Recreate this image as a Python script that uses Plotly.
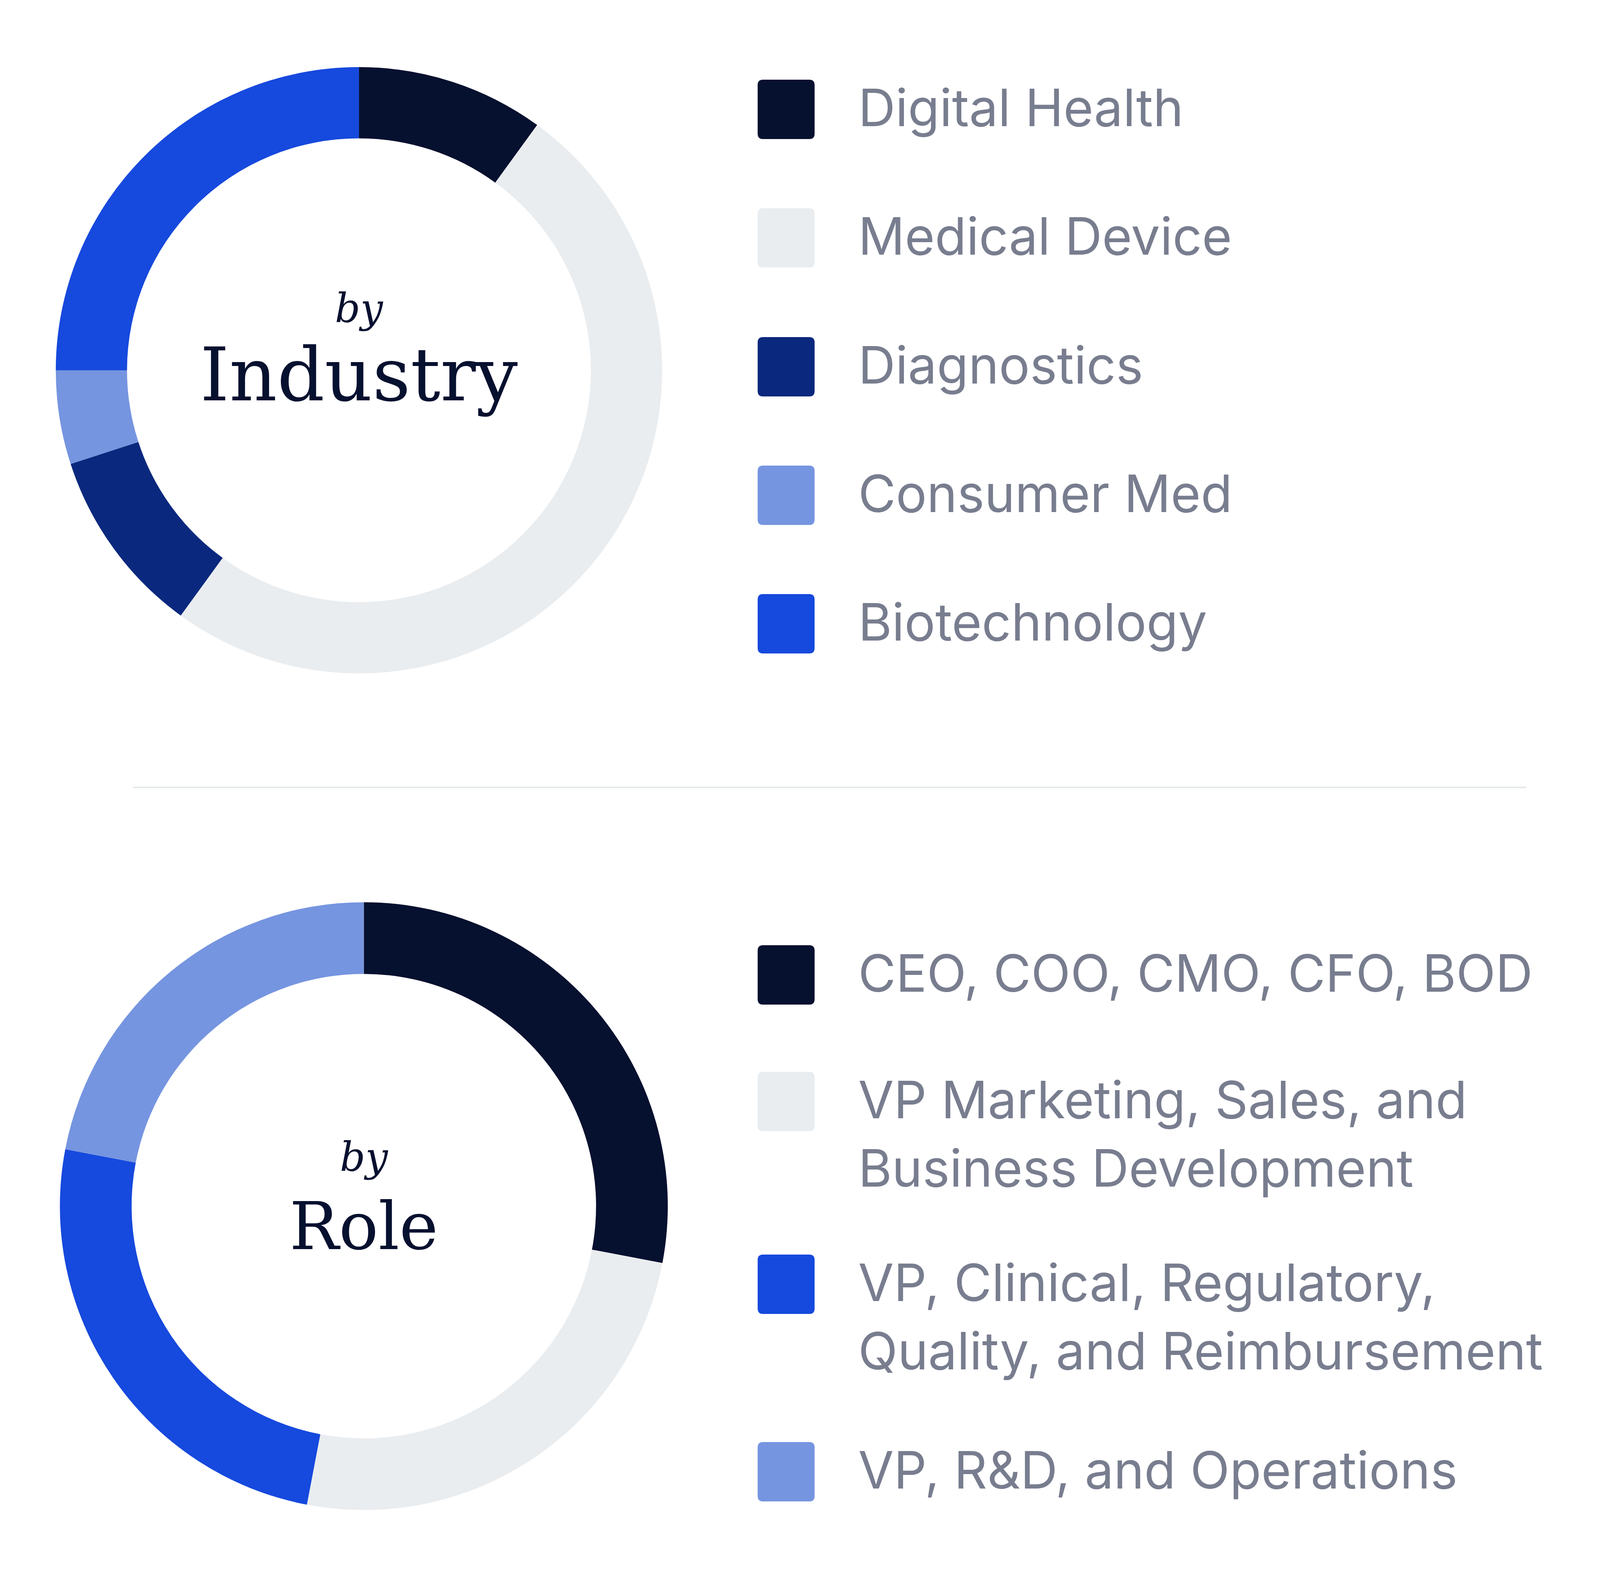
import plotly.graph_objects as go

# the browser viewport is 4096 x 4017 and the page body adds an 8px margin,
# so the figure is sized to fit inside it; positions below are read off the
# 4270 x 4017 reference and mapped across
REF_W, REF_H = 4270, 4017
VIEW_W, VIEW_H = 4096, 4017
PAD = 8
W, H = VIEW_W - 2 * PAD, VIEW_H - 2 * PAD + 1
SX = VIEW_W / REF_W

# data - industry
industry_labels = ["Digital Health", "Medical Device", "Diagnostics", "Consumer Med", "Biotechnology"]
industry_values = [10, 50, 10, 5, 25]
industry_colors = ["#06102F", "#EAEDF0", "#0A287D", "#7695E0", "#1649DD"]

# data - role
role_labels = ["CEO, COO, CMO, CFO, BOD",
               "VP Marketing, Sales, and\nBusiness Development",
               "VP, Clinical, Regulatory,\nQuality, and Reimbursement",
               "VP, R&D, and Operations"]
role_values = [28, 25, 25, 22]
role_colors = ["#06102F", "#EAEDF0", "#1649DD", "#7695E0"]

TEXT_GRAY = "#787D8F"
NAVY = "#06102F"


def px(x):
    # reference x (px) -> paper fraction
    return (x * SX - PAD) / W


def py(y):
    # reference y (px) -> paper fraction
    return 1 - (y - PAD) / H


def donut_domain(cx, cy, r):
    rr = r * 0.98
    cxp = cx * SX - PAD
    cyp = cy - PAD
    return dict(x=[(cxp - rr) / W, (cxp + rr) / W], y=[1 - (cyp + rr) / H, 1 - (cyp - rr) / H])


fig = go.Figure()

fig.add_trace(go.Pie(
    labels=industry_labels, values=industry_values,
    marker=dict(colors=industry_colors, line=dict(color="white", width=0)),
    hole=0.765, sort=False, direction="clockwise", rotation=0,
    textinfo="none", hoverinfo="label+percent", showlegend=False,
    domain=donut_domain(958, 948, 792),
))

fig.add_trace(go.Pie(
    labels=[l.replace("\n", " ") for l in role_labels], values=role_values,
    marker=dict(colors=role_colors, line=dict(color="white", width=0)),
    hole=0.764, sort=False, direction="clockwise", rotation=0,
    textinfo="none", hoverinfo="label+percent", showlegend=False,
    domain=donut_domain(971, 3088, 794),
))


def rounded_square(x0, y0, size, rad, color):
    x1, y1 = x0 + size, y0 + size
    path = (f"M {px(x0 + rad)},{py(y0)} L {px(x1 - rad)},{py(y0)} "
            f"Q {px(x1)},{py(y0)} {px(x1)},{py(y0 + rad)} "
            f"L {px(x1)},{py(y1 - rad)} Q {px(x1)},{py(y1)} {px(x1 - rad)},{py(y1)} "
            f"L {px(x0 + rad)},{py(y1)} Q {px(x0)},{py(y1)} {px(x0)},{py(y1 - rad)} "
            f"L {px(x0)},{py(y0 + rad)} Q {px(x0)},{py(y0)} {px(x0 + rad)},{py(y0)} Z")
    return dict(type="path", path=path, xref="paper", yref="paper",
                fillcolor=color, line=dict(width=0), layer="above")


shapes = []
annotations = []

SQ_X, SQ = 2022, 152
TXT_X = 2288
LINE_GAP = 175
FONT_SZ = 132


def add_legend(labels, colors, rows):
    for lab, col, yc in zip(labels, colors, rows):
        shapes.append(rounded_square(SQ_X, yc - SQ / 2, SQ, 14, col))
        for k, line in enumerate(lab.split("\n")):
            annotations.append(dict(
                x=px(TXT_X), y=py(yc - 5 + k * LINE_GAP), xref="paper", yref="paper",
                text=line, showarrow=False, xanchor="left", yanchor="middle",
                font=dict(family="Inter", size=FONT_SZ, color=TEXT_GRAY),
            ))


add_legend(industry_labels, industry_colors, [280, 609, 939, 1268, 1597])
add_legend(role_labels, role_colors, [2496, 2820, 3288, 3768])

# divider
shapes.append(dict(type="line", xref="paper", yref="paper",
                   x0=px(356), x1=px(4073), y0=py(2016), y1=py(2016),
                   line=dict(color="#E6E9EC", width=4)))

# centre titles: "by" over the big word, one text block so the lines keep a 200px gap
for cx, yc, word, sz in [(958, 900, "Industry", 190), (971, 3070, "Role", 168)]:
    annotations.append(dict(
        x=px(cx), y=py(yc), xref="paper", yref="paper", showarrow=False,
        xanchor="center", yanchor="middle", align="center",
        text=(f"<span style='font-size:102px'><i>by</i></span><br>"
              f"<span style='font-size:{sz}px'>{word}</span>"),
        font=dict(family="DejaVu Serif", size=154, color=NAVY),
    ))

fig.update_layout(
    width=W, height=H,
    margin=dict(l=0, r=0, t=0, b=0),
    paper_bgcolor="white", plot_bgcolor="white",
    shapes=shapes, annotations=annotations,
    showlegend=False,
)

fig.write_html("out.html")
